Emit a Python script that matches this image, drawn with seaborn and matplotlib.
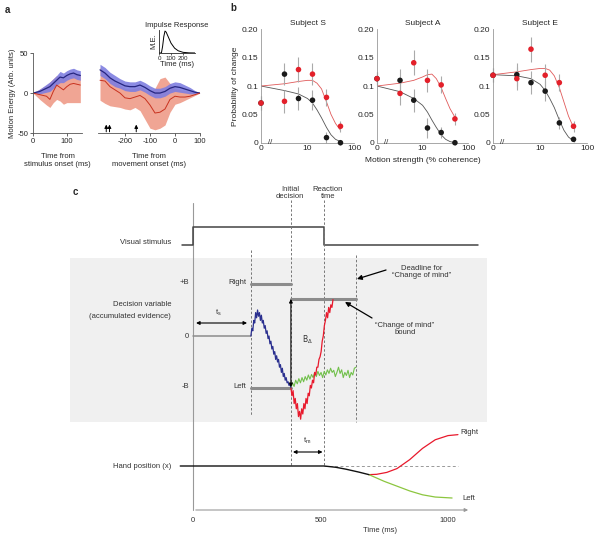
import numpy as np
import matplotlib.pyplot as plt
import seaborn as sns

sns.set_style("ticks")
plt.rcParams['font.family'] = ['Liberation Sans', 'DejaVu Sans']
plt.rcParams['mathtext.fontset'] = 'dejavusans'
plt.rcParams['axes.linewidth'] = 0.6
plt.rcParams['axes.unicode_minus'] = False

FS = 5.5
FSB = 6

# ---------------- panel a: motion energy ----------------
A_STIM_T = [0, 20, 40, 50, 60, 70, 80, 90, 100, 110, 120, 130, 140]
A_STIM_BLUE = [0, 2, 6, 8, 12, 16, 20, 19, 22, 24, 25, 23, 22]
A_STIM_BLUE_SEM = [0, 3, 5, 6, 6, 6, 7, 6, 6, 6, 6, 6, 6]
A_STIM_RED = [0, -2, -4, -8, 2, 10, 7, 4, 8, 11, 12, 11, 10]
A_STIM_RED_HI = [0, 5, 10, 14, 18, 22, 20, 18, 22, 24, 25, 23, 22]
A_STIM_RED_LO = [0, -8, -15, -18, -12, -8, -10, -14, -12, -12, -12, -12, -12]

A_MOV_T = [-300, -280, -260, -240, -220, -200, -180, -160, -140, -120, -100,
           -80, -60, -40, -20, 0, 20, 40, 60, 80, 100]
A_MOV_BLUE = [29, 25, 19, 15, 12, 9, 8, 8, 10, 7, 3, 0, 0, 2, 6, 8, 7, 5, 3, 1, 0]
A_MOV_BLUE_SEM = [7, 7, 7, 7, 6, 6, 6, 6, 6, 6, 6, 6, 6, 6, 6, 6, 6, 5, 4, 2, 0]
A_MOV_RED = [16, 15, 8, 4, 0, -6, -7, -5, -3, -7, -15, -25, -24, -20, -8, -4,
             -5, -5, -4, -2, 0]
A_MOV_RED_HI = [32, 26, 20, 14, 10, 6, 5, 6, 8, 4, 2, 6, 18, 20, 12, 6, 4, 3, 2, 1, 0]
A_MOV_RED_LO = [-9, -13, -16, -17, -18, -20, -21, -18, -22, -33, -44, -46, -44,
                -40, -24, -14, -12, -9, -6, -3, 0]
A_ARROW_T = [-275, -262, -155]

IR_T = [0, 20, 30, 40, 50, 60, 80, 100, 130, 160, 200, 250, 300]
IR_Y = [0, 0, 0.3, 0.75, 1.0, 0.95, 0.7, 0.45, 0.22, 0.1, 0.03, 0.005, 0]

# ---------------- panel b: probability of change ----------------
COH = np.array([0, 3.2, 6.4, 12.8, 25.6, 51.2])
FIT_COH = np.array([0, 3.2, 6.4, 10, 12.8, 16, 20, 25.6, 32, 40, 51.2])
SUBJECTS = ["Subject S", "Subject A", "Subject E"]
RED_PTS = {
    "Subject S": [0.070, 0.073, 0.129, 0.121, 0.080, 0.029],
    "Subject A": [0.113, 0.087, 0.141, 0.110, 0.102, 0.042],
    "Subject E": [0.119, 0.113, 0.165, 0.119, 0.106, 0.029],
}
BLACK_PTS = {
    "Subject S": [0.070, 0.121, 0.078, 0.075, 0.009, 0.000],
    "Subject A": [0.113, 0.110, 0.075, 0.026, 0.018, 0.000],
    "Subject E": [0.119, 0.120, 0.106, 0.091, 0.035, 0.006],
}
RED_ERR = [0.012, 0.02, 0.022, 0.02, 0.015, 0.01]
BLACK_ERR = [0.012, 0.02, 0.02, 0.018, 0.01, 0.004]
RED_FIT = {
    "Subject S": [0.100, 0.104, 0.108, 0.110, 0.110, 0.105, 0.095, 0.072, 0.050, 0.034, 0.022],
    "Subject A": [0.100, 0.105, 0.110, 0.116, 0.120, 0.121, 0.113, 0.097, 0.078, 0.060, 0.045],
    "Subject E": [0.120, 0.125, 0.129, 0.131, 0.131, 0.128, 0.118, 0.097, 0.072, 0.047, 0.027],
}
BLACK_FIT = {
    "Subject S": [0.100, 0.092, 0.086, 0.078, 0.070, 0.058, 0.044, 0.027, 0.014, 0.006, 0.002],
    "Subject A": [0.100, 0.090, 0.078, 0.066, 0.054, 0.040, 0.027, 0.014, 0.006, 0.002, 0.000],
    "Subject E": [0.120, 0.118, 0.113, 0.103, 0.092, 0.078, 0.062, 0.040, 0.022, 0.010, 0.003],
}

# ---------------- panel c: model schematic ----------------
BLUE_DV = [0, 0.15, 0.1, 0.3, 0.25, 0.45, 0.35, 0.5, 0.38, 0.45, 0.3, 0.4, 0.25, 0.3,
           0.15, 0.2, 0.05, 0.1, -0.05, 0.0, -0.15, -0.1, -0.25, -0.2, -0.35, -0.3,
           -0.45, -0.38, -0.5, -0.45, -0.6, -0.55, -0.7, -0.62, -0.78, -0.72, -0.85,
           -0.8, -0.9, -0.88, -0.95, -0.92, -1.0]
RED_DV = [-1.0, -1.15, -1.05, -1.3, -1.2, -1.4, -1.3, -1.55, -1.45, -1.6, -1.4, -1.5,
          -1.3, -1.4, -1.2, -1.3, -1.1, -1.15, -0.95, -1.0, -0.85, -0.9, -0.7, -0.75,
          -0.6, -0.6, -0.45, -0.4, -0.3, -0.1, 0.0, 0.2, 0.3, 0.45, 0.35, 0.55, 0.45,
          0.6, 0.55, 0.7]
GREEN_DV = [-1.0, -0.9, -0.97, -0.85, -0.92, -0.82, -0.9, -0.8, -0.88, -0.78, -0.85,
            -0.75, -0.83, -0.74, -0.8, -0.7, -0.78, -0.68, -0.76, -0.7, -0.8, -0.68,
            -0.75, -0.65, -0.72, -0.62, -0.7, -0.66, -0.78, -0.7, -0.6, -0.72, -0.65,
            -0.8, -0.7, -0.76, -0.66, -0.8, -0.7, -0.75, -0.62, -0.6]
HAND_T_BLACK = [-50, 514, 560, 600, 650, 690]
HAND_X_BLACK = [0, 0, -0.04, -0.1, -0.19, -0.27]
HAND_T_RIGHT = [690, 720, 760, 800, 850, 900, 950, 1000, 1039]
HAND_X_RIGHT = [-0.27, -0.26, -0.2, -0.08, 0.2, 0.55, 0.82, 0.95, 0.98]
HAND_T_LEFT = [690, 750, 800, 850, 900, 950, 1016]
HAND_X_LEFT = [-0.27, -0.48, -0.63, -0.78, -0.9, -0.97, -1.0]

T_S, T_INIT, T_RT, T_DEAD = 227, 384, 514, 639
CM_BOUND = 0.71

fig = plt.figure(figsize=(6, 5.4), dpi=100)

red_band, blue_band = '#f0a594', '#7e7ee0'
red_line, blue_line = '#c8321f', '#262680'

# --- a, stimulus-aligned
ax1 = fig.add_axes([0.055, 0.7537, 0.0817, 0.148])
ax1.fill_between(A_STIM_T, A_STIM_RED_LO, A_STIM_RED_HI, color=red_band, lw=0)
b = np.array(A_STIM_BLUE); s = np.array(A_STIM_BLUE_SEM)
ax1.fill_between(A_STIM_T, b - s, b + s, color=blue_band, lw=0, alpha=0.9)
sns.lineplot(x=A_STIM_T, y=A_STIM_BLUE, ax=ax1, color=blue_line, lw=0.9)
sns.lineplot(x=A_STIM_T, y=A_STIM_RED, ax=ax1, color=red_line, lw=0.7)
ax1.set_xlim(0, 145)
ax1.set_ylim(-50, 50)
ax1.set_xticks([0, 100])
ax1.set_yticks([-50, 0, 50])
ax1.set_ylabel('Motion Energy (Arb. units)', fontsize=FS, labelpad=1)
ax1.set_xlabel('Time from\nstimulus onset (ms)', fontsize=FS, labelpad=6)
sns.despine(ax=ax1)

# --- a, movement-aligned
ax2 = fig.add_axes([0.1625, 0.7537, 0.1708, 0.148])
ax2.fill_between(A_MOV_T, A_MOV_RED_LO, A_MOV_RED_HI, color=red_band, lw=0)
b = np.array(A_MOV_BLUE); s = np.array(A_MOV_BLUE_SEM)
ax2.fill_between(A_MOV_T, b - s, b + s, color=blue_band, lw=0, alpha=0.9)
sns.lineplot(x=A_MOV_T, y=A_MOV_BLUE, ax=ax2, color=blue_line, lw=0.9)
sns.lineplot(x=A_MOV_T, y=A_MOV_RED, ax=ax2, color=red_line, lw=0.7)
for t in A_ARROW_T:
    ax2.annotate('', xy=(t, -36), xytext=(t, -52),
                 arrowprops=dict(arrowstyle='-|>', lw=0.7, color='k', mutation_scale=5))
ax2.set_xlim(-310, 100)
ax2.set_ylim(-50, 50)
ax2.set_xticks([-200, -100, 0, 100])
ax2.set_yticks([])
ax2.set_xlabel('Time from\nmovement onset (ms)', fontsize=FS, labelpad=6)
sns.despine(ax=ax2, left=True)

# --- a, inset impulse response
axi = fig.add_axes([0.265, 0.9019, 0.06, 0.0426])
sns.lineplot(x=IR_T, y=IR_Y, ax=axi, color='k', lw=0.7)
axi.set_xlim(0, 300)
axi.set_ylim(0, 1.05)
axi.set_xticks([0, 100, 200])
axi.set_yticks([])
axi.tick_params(labelsize=4.5, length=1.5, pad=1, width=0.5)
axi.set_xlabel('Time (ms)', fontsize=FS, labelpad=0)
axi.set_ylabel('M.E.', fontsize=FS, labelpad=1)
axi.set_title('Impulse Response', fontsize=FS, pad=2)
sns.despine(ax=axi)

for ax in (ax1, ax2):
    ax.tick_params(labelsize=FS, length=2, pad=1.5, width=0.5)
    for sp in ax.spines.values():
        sp.set_color('#555555')

# --- b
b_lefts = [0.435, 0.6283, 0.8217]
b_widths = [0.155, 0.152, 0.157]
# 0% coherence is drawn at the origin of the log axis (x = 1)
coh_pos = np.where(COH == 0, 1, COH)
fit_pos = np.where(FIT_COH == 0, 1, FIT_COH)
for i, subj in enumerate(SUBJECTS):
    ax = fig.add_axes([b_lefts[i], 0.7357, b_widths[i], 0.21])
    ax.set_xscale('log')
    sns.lineplot(x=fit_pos, y=BLACK_FIT[subj], ax=ax, color='#555555', lw=0.6)
    sns.lineplot(x=fit_pos, y=RED_FIT[subj], ax=ax, color='#e05a5a', lw=0.6)
    ax.errorbar(coh_pos, BLACK_PTS[subj], yerr=BLACK_ERR, fmt='none',
                ecolor='#aaaaaa', elinewidth=0.8, clip_on=False)
    ax.errorbar(coh_pos, RED_PTS[subj], yerr=RED_ERR, fmt='none',
                ecolor='#aaaaaa', elinewidth=0.8, clip_on=False)
    sns.scatterplot(x=coh_pos, y=BLACK_PTS[subj], ax=ax, color='#1a1a1a', s=16,
                    edgecolor='none', zorder=4, clip_on=False)
    sns.scatterplot(x=coh_pos, y=RED_PTS[subj], ax=ax, color='#e3202a', s=16,
                    edgecolor='none', zorder=4, clip_on=False)
    ax.set_xlim(1, 100)
    ax.set_ylim(0, 0.2)
    ax.set_xticks([1, 10, 100])
    ax.set_xticklabels(['0', '10', '100'])
    ax.minorticks_off()
    ax.set_yticks([0, 0.05, 0.1, 0.15, 0.2])
    ax.set_yticklabels(['0', '0.05', '0.1', '0.15', '0.20'])
    ax.tick_params(labelsize=FSB, length=0, pad=2)
    ax.set_title(subj, fontsize=FSB, pad=3)
    ax.text(1.55, 0, '//', fontsize=5.5, ha='center', va='center',
            transform=ax.get_xaxis_transform())
    sns.despine(ax=ax)
    for sp in ax.spines.values():
        sp.set_color('#999999')
    if i == 0:
        ax.set_ylabel('Probability of change', fontsize=FSB, labelpad=2)
    if i == 1:
        ax.set_xlabel('Motion strength (% coherence)', fontsize=FSB, labelpad=3)

# --- c (x in ms, y in figure pixel rows)
axc = fig.add_axes([0, 0, 1, 355 / 540])
axc.set_xlim(-193 / 0.255, 407 / 0.255)
axc.set_ylim(540, 185)
axc.axis('off')
axc.patch.set_alpha(0)


def dv_y(v):
    return 336 - 52 * np.asarray(v, dtype=float)


def hand_y(h):
    return 466 - 32 * np.asarray(h, dtype=float)


grey_txt = '#333333'
bound_col = '#8c8c8c'
axc.fill_between([-482, 1153], 258, 422, color='#f0f0f0', lw=0, zorder=0)

# axes
axc.plot([0, 0], [203, 510], color='#999999', lw=0.8)
axc.annotate('', xy=(1090, 510), xytext=(0, 510),
             arrowprops=dict(arrowstyle='-|>', lw=0.8, color='#999999', mutation_scale=5))
for t, lab in zip([0, 500, 1000], ['0', '500', '1000']):
    axc.text(t, 521, lab, fontsize=FS, ha='center', va='center', color=grey_txt)
axc.text(733, 531, 'Time (ms)', fontsize=FS, ha='center', va='center', color=grey_txt)

# stimulus trace
axc.plot([-43, 0, 0, T_RT, T_RT, 1118], [245, 245, 227, 227, 245, 245],
         color='#444444', lw=1.1)

# dashed event lines
dash = dict(color='#777777', lw=0.7, ls=(0, (2.5, 2)))
axc.plot([T_S, T_S], [250, 415], **dash)
axc.plot([T_INIT, T_INIT], [200, 466], **dash)
axc.plot([T_RT, T_RT], [200, 466], **dash)
axc.plot([T_DEAD, T_DEAD], [255, 422], **dash)

# bounds
axc.plot([0, T_S], dv_y([0, 0]), color=bound_col, lw=1.1)
axc.plot([T_S, T_INIT], dv_y([1, 1]), color=bound_col, lw=2.2)
axc.plot([T_S, T_INIT], dv_y([-1, -1]), color=bound_col, lw=2.2)
axc.plot([T_INIT, T_DEAD], dv_y([CM_BOUND, CM_BOUND]), color=bound_col, lw=2.2)

# decision variable traces
sns.lineplot(x=np.linspace(T_INIT, T_DEAD, len(GREEN_DV)), y=dv_y(GREEN_DV),
             ax=axc, color='#72c04c', lw=0.8)
sns.lineplot(x=np.linspace(T_S, T_INIT, len(BLUE_DV)), y=dv_y(BLUE_DV),
             ax=axc, color='#2a2f8f', lw=0.9)
sns.lineplot(x=np.linspace(T_INIT, 549, len(RED_DV)), y=dv_y(RED_DV),
             ax=axc, color='#e8192c', lw=0.9)

# hand position
axc.plot([T_RT, 1039], hand_y([0, 0]), color='#999999', lw=0.7, ls=(0, (3, 2.5)))
sns.lineplot(x=HAND_T_RIGHT, y=hand_y(HAND_X_RIGHT), ax=axc, color='#e8192c', lw=0.9)
sns.lineplot(x=HAND_T_LEFT, y=hand_y(HAND_X_LEFT), ax=axc, color='#8cc63f', lw=0.9)
sns.lineplot(x=HAND_T_BLACK, y=hand_y(HAND_X_BLACK), ax=axc, color='#111111', lw=1.0)

# arrows
arr = dict(arrowstyle='<|-|>', lw=0.8, color='k', mutation_scale=5, shrinkA=0, shrinkB=0)
axc.annotate('', xy=(12, 323), xytext=(212, 323), arrowprops=arr)
axc.annotate('', xy=(T_INIT, 299), xytext=(T_INIT, 387), arrowprops=arr)
axc.annotate('', xy=(T_INIT + 8, 452), xytext=(T_RT - 6, 452), arrowprops=arr)
one = dict(arrowstyle='-|>', lw=0.9, color='k', mutation_scale=7, shrinkA=0, shrinkB=0)
axc.annotate('', xy=(643, 279), xytext=(757, 270), arrowprops=one)
axc.annotate('', xy=(596, 302), xytext=(702, 318), arrowprops=one)

# labels
lab = dict(fontsize=FS, color=grey_txt, va='center')
axc.text(-86, 243, 'Visual stimulus', ha='right', **lab)
axc.text(-86, 305, 'Decision variable', ha='right', **lab)
axc.text(-86, 316, '(accumulated evidence)', ha='right', **lab)
axc.text(-86, 466, 'Hand position (x)', ha='right', **lab)
axc.text(-16, 283, '+B', ha='right', **lab)
axc.text(-16, 336, '0', ha='right', **lab)
axc.text(-16, 387, '-B', ha='right', **lab)
axc.text(208, 283, 'Right', ha='right', **lab)
axc.text(208, 387, 'Left', ha='right', **lab)
axc.text(98, 313, '$\\mathregular{t_s}$', ha='center', **lab)
axc.text(449, 441, '$\\mathregular{t_m}$', ha='center', **lab)
axc.text(428, 340, '$\\mathrm{B}_{\\Delta}$', ha='left', fontsize=FS, color=grey_txt,
         va='center', family='DejaVu Serif')
axc.text(380, 193, 'Initial\ndecision', ha='center', linespacing=1.1, **lab)
axc.text(529, 193, 'Reaction\ntime', ha='center', linespacing=1.1, **lab)
axc.text(898, 272, 'Deadline for\n\u201cChange of mind\u201d', ha='center',
         linespacing=1.1, **lab)
axc.text(831, 329, '\u201cChange of mind\u201d\nbound', ha='center', linespacing=1.1, **lab)
axc.text(1047, 433, 'Right', ha='left', **lab)
axc.text(1055, 498, 'Left', ha='left', **lab)

# panel letters
fig.text(5 / 600, 1 - 10 / 540, 'a', fontsize=7, weight='bold', va='center')
fig.text(230 / 600, 1 - 8 / 540, 'b', fontsize=7, weight='bold', va='center')
fig.text(73 / 600, 1 - 192 / 540, 'c', fontsize=7, weight='bold', va='center')

fig.savefig('out.png', dpi=100)
